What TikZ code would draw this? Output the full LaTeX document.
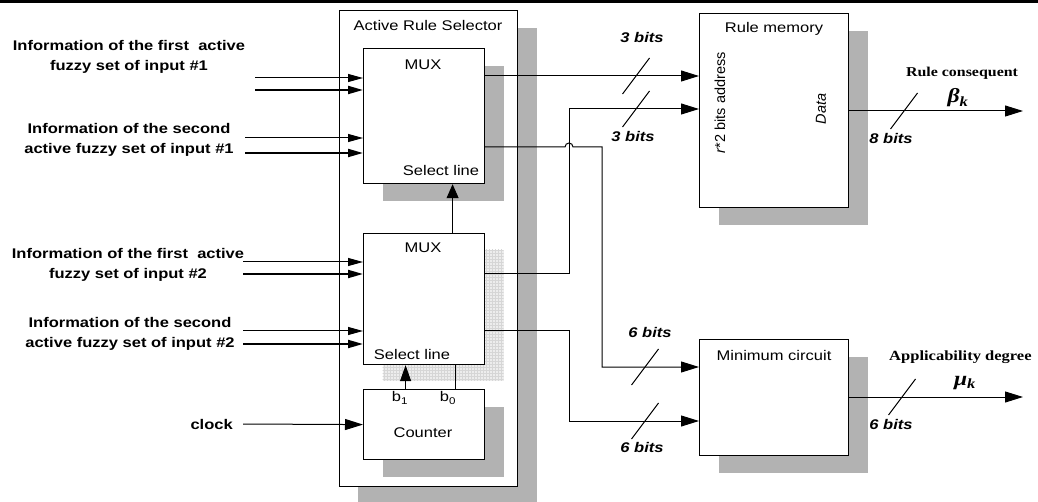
\documentclass[tikz,border=0pt]{standalone}
\usepackage{fontspec}
\setmainfont{Liberation Sans}[FakeStretch=1.18]
\newfontfamily\upsans{Liberation Sans}
\newfontfamily\timesb{Liberation Serif}[FakeStretch=1.18]
\usetikzlibrary{arrows.meta,shadows,patterns}
\definecolor{shadegray}{RGB}{178,178,178}

\begin{document}
\begin{tikzpicture}[x=1pt, y=-1pt,
  intip/.tip={Triangle[length=15pt,width=8pt]},
  bigtip/.tip={Triangle[length=18pt,width=11pt]},
  blk/.style={draw, line width=1.2pt, fill=white, anchor=north west, inner sep=0pt,
    drop shadow={shadow xshift=19pt, shadow yshift=-17pt, fill=shadegray, opacity=1}},
  gridblk/.style={draw, line width=1.2pt, fill=white, anchor=north west, inner sep=0pt,
    drop shadow={shadow xshift=19pt, shadow yshift=-16pt, fill=black!7, opacity=1},
    drop shadow={shadow xshift=19pt, shadow yshift=-16pt, pattern=grid,
                 pattern color=black!16, opacity=1}},
  txt/.style={font=\fontsize{14}{16}\selectfont, inner sep=0pt},
  vtxt/.style={font=\fontsize{14.5}{16}\selectfont\upsans, inner sep=0pt, rotate=90},
  inlbl/.style={font=\fontsize{14}{20}\selectfont\bfseries, align=center, inner sep=0pt},
  bits/.style={font=\fontsize{14}{16}\selectfont\bfseries\itshape, inner sep=0pt},
  outlbl/.style={font=\fontsize{13.5}{16}\selectfont\timesb\bfseries, inner sep=0pt},
  greek/.style={font=\fontsize{20}{20}\selectfont\timesb\bfseries\itshape, inner sep=0pt},
  sig/.style={line width=1pt},
  bus/.style={line width=2pt},
  busmark/.style={line width=1pt},
]
\useasboundingbox (0,0) rectangle (1038,502);
\draw[line width=2.7pt] (0,1.35) -- (1038,1.35);

% ---- Blocks ----
\node[blk, minimum width=178pt, minimum height=476pt,
      drop shadow={shadow xshift=18pt, shadow yshift=-17pt, fill=shadegray, opacity=1}]
      (sel) at (339,10) {};
\node[blk, minimum width=121pt, minimum height=135pt] (muxa) at (363,48) {};
\node[gridblk, minimum width=121pt, minimum height=131pt] (muxb) at (363,233) {};
\node[blk, minimum width=121pt, minimum height=70pt] (cnt) at (363,389) {};
\node[blk, minimum width=149pt, minimum height=194pt] (mem) at (699,13) {};
\node[blk, minimum width=149pt, minimum height=116pt] (minc) at (699,339) {};

% ---- Texts inside blocks ----
\node[txt] (selt)  at (428,26)  {Active Rule Selector};
\node[txt] (muxat) at (423,65)  {MUX};
\node[txt] (muxas) at (441,170) {Select line};
\node[txt] (muxbt) at (423,248) {MUX};
\node[txt] (muxbs) at (412,354) {Select line};
\node[txt] (bone)  at (400,398) {b\textsubscript{1}};
\node[txt] (bzero) at (448,398) {b\textsubscript{0}};
\node[txt] (cntt)  at (423,433) {Counter};
\node[txt] (memt)  at (774,29)  {Rule memory};
\node[vtxt] (addr) at (720,103) {\textit{r}*2 bits address};
\node[vtxt] (data) at (821,109) {\itshape Data};
\node[txt] (minct) at (774,355) {Minimum circuit};

% ---- Input labels ----
\node[inlbl] (in1) at (129,57)  {Information of the first\ \ active\\fuzzy set of input \#1};
\node[inlbl] (in2) at (129,140) {Information of the second\\active fuzzy set of input \#1};
\node[inlbl] (in3) at (128,265) {Information of the first\ \ active\\fuzzy set of input \#2};
\node[inlbl] (in4) at (130,334) {Information of the second\\active fuzzy set of input \#2};
\node[inlbl, anchor=east] (clkt) at (233,424) {clock};

% ---- Inputs ----
\foreach \n/\x/\y/\s/\m in {a1/255/78/sig/muxa, a2/255/90/bus/muxa,
                            a3/245/138/sig/muxa, a4/245/153/bus/muxa,
                            b1/243/262/sig/muxb, b2/243/274/bus/muxb,
                            b3/243/331/sig/muxb, b4/243/344/bus/muxb}{
  \coordinate (\n) at (\x,\y);
  \draw[\s, -{intip}] (\n) -- (\n -| \m.west);
}
\coordinate (clk) at (243,424);
\draw[sig, -{bigtip}] (clk) -- (cnt.west);

% ---- Select lines ----
\draw[sig, -{Triangle[length=14pt,width=12pt]}] ([xshift=28.5pt]muxb.north) -- ([xshift=28.5pt]muxa.south);
\draw[sig, -{Triangle[length=16pt,width=11pt]}] ([xshift=-18.5pt]cnt.north) -- ([xshift=-18.5pt]muxb.south);
\draw[sig] ([xshift=31.5pt]cnt.north) -- ([xshift=31.5pt]muxb.south);

% ---- MUX outputs ----
\draw[sig, -{bigtip}] (muxa.east |- 0,76) -- (mem.west |- 0,76);
\draw[sig, -{bigtip}] (muxb.east |- 0,274) -| (569,109) -- (mem.west |- 0,109);
\draw[sig, -{bigtip}] (muxa.east |- 0,147) -- (565,147)
  arc[start angle=180, end angle=360, radius=4] -- (602,147) -- (602,367)
  -- (minc.west |- 0,367);
\draw[sig, -{bigtip}] (muxb.east |- 0,331) -| (569,421) -- (minc.west |- 0,421);

% ---- Outputs ----
\coordinate (beta) at (1023,111);
\coordinate (mu) at (1023,397);
\draw[sig, -{bigtip}] (mem.east |- beta) -- (beta);
\draw[sig, -{bigtip}] (minc.east |- mu) -- (mu);
\node[outlbl] (rcons) at (962,73) {Rule consequent};
\node[greek] (betak) at (958,98) {β\textsubscript{k}};
\node[outlbl, anchor=west, font=\fontsize{14}{16}\selectfont\timesb\bfseries]
      (appl) at (889,357) {Applicability degree};
\node[greek] (muk) at (965,383) {μ\textsubscript{k}};

% ---- Bus widths ----
\foreach \x/\y in {636/76, 636/109, 645/367, 645/421, 904/111, 902/397}
  \draw[busmark] (\x,\y) +(-13.5,18) -- +(13.5,-18);
\node[bits] (w1) at (642,38)  {3 bits};
\node[bits] (w2) at (633,136) {3 bits};
\node[bits] (w3) at (650,332) {6 bits};
\node[bits] (w4) at (642,447) {6 bits};
\node[bits] (w5) at (891,138) {8 bits};
\node[bits] (w6) at (891,424) {6 bits};
\end{tikzpicture}
\end{document}
